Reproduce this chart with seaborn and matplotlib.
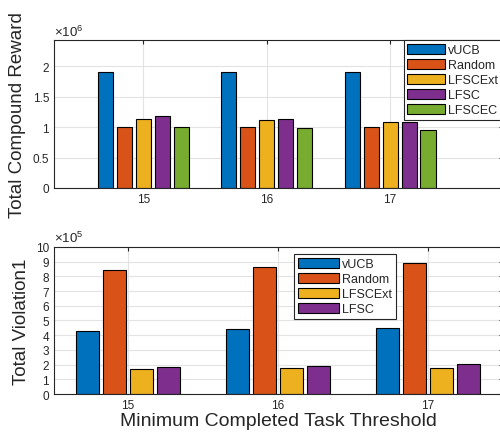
import matplotlib
matplotlib.use("Agg")
import matplotlib.pyplot as plt
import seaborn as sns
import pandas as pd

# Data
thresholds = ["15", "16", "17"]

reward_algos = ["vUCB", "Random", "LFSCExt", "LFSC", "LFSCEC"]
reward_vucb = [1.90e6, 1.90e6, 1.90e6]
reward_random = [1.00e6, 1.00e6, 1.00e6]
reward_lfscext = [1.14e6, 1.12e6, 1.08e6]
reward_lfsc = [1.175e6, 1.14e6, 1.09e6]
reward_lfscec = [0.995e6, 0.98e6, 0.96e6]
reward_ticks = [0, 0.5e6, 1e6, 1.5e6, 2e6]
reward_ticklabels = ["0", "0.5", "1", "1.5", "2"]

viol_algos = ["vUCB", "Random", "LFSCExt", "LFSC"]
viol_vucb = [4.31e5, 4.43e5, 4.52e5]
viol_random = [8.40e5, 8.64e5, 8.88e5]
viol_lfscext = [1.70e5, 1.75e5, 1.80e5]
viol_lfsc = [1.82e5, 1.91e5, 2.02e5]
viol_ticks = [i * 1e5 for i in range(11)]
viol_ticklabels = [str(i) for i in range(11)]

matlab_colors = ["#0072BD", "#D95319", "#EDB120", "#7E2F8E", "#77AC30"]


def to_long(algos, series):
    rows = []
    for algo, vals in zip(algos, series):
        for t, v in zip(thresholds, vals):
            rows.append({"Threshold": t, "Algorithm": algo, "Value": v})
    return pd.DataFrame(rows)


reward_df = to_long(reward_algos, [reward_vucb, reward_random, reward_lfscext,
                                   reward_lfsc, reward_lfscec])
viol_df = to_long(viol_algos, [viol_vucb, viol_random, viol_lfscext, viol_lfsc])

sns.set_style("white")
plt.rcParams["font.family"] = ["Liberation Sans", "DejaVu Sans"]
plt.rcParams["mathtext.fontset"] = "custom"
plt.rcParams["mathtext.rm"] = "Liberation Sans"

fig = plt.figure(figsize=(5.0, 4.39), dpi=100)
ax1 = fig.add_axes([0.108, 0.5695, 0.898, 0.337])
ax2 = fig.add_axes([0.108, 0.1002, 0.898, 0.335])


def style_axis(ax, ylim, yticks, yticklabels, exponent):
    ax.set_ylim(*ylim)
    ax.set_yticks(yticks)
    ax.set_yticklabels(yticklabels)
    ax.text(0.0, 1.01, r"$\times10^{%d}$" % exponent, transform=ax.transAxes,
            fontsize=9.5, color="#262626", ha="left", va="bottom")
    ax.grid(True, color="#e3e3e3", linewidth=0.8)
    ax.set_axisbelow(True)
    for s in ax.spines.values():
        s.set_visible(True)
        s.set_color("#262626")
        s.set_linewidth(0.8)
    ax.tick_params(direction="in", top=True, right=True, length=3,
                   labelsize=8.5, colors="#262626", width=0.8)


legend_kw = dict(fontsize=9, frameon=True, fancybox=False, edgecolor="#262626",
                 framealpha=1, handlelength=3.3, handleheight=0.9,
                 handletextpad=0.25, labelspacing=0.2, borderpad=0.3,
                 borderaxespad=0)

# Top: total compound reward
sns.barplot(data=reward_df, x="Threshold", y="Value", hue="Algorithm",
            order=thresholds, hue_order=reward_algos, palette=matlab_colors,
            width=0.77, gap=0.21, edgecolor="black", linewidth=0.8,
            saturation=1, ax=ax1)
ax1.set_xlim(-0.724, 2.916)
style_axis(ax1, (0, 2.43e6), reward_ticks, reward_ticklabels, 6)
ax1.set_xlabel("")
ax1.set_ylabel("Total Compound Reward", fontsize=13.5, color="#262626")
ax1.yaxis.set_label_coords(-0.062, 0.5)
top_kw = dict(legend_kw, handlelength=3.0)
leg1 = ax1.legend(loc="upper right", bbox_to_anchor=(0.997, 1.0), **top_kw)
leg1.get_frame().set_linewidth(0.8)

# Bottom: total violation
sns.barplot(data=viol_df, x="Threshold", y="Value", hue="Algorithm",
            order=thresholds, hue_order=viol_algos, palette=matlab_colors[:4],
            width=0.72, gap=0.15, edgecolor="black", linewidth=0.8,
            saturation=1, ax=ax2)
ax2.set_xlim(-0.49, 2.5)
style_axis(ax2, (0, 1e6), viol_ticks, viol_ticklabels, 5)
ax2.set_xlabel("Minimum Completed Task Threshold", fontsize=14,
               color="#262626", labelpad=1)
ax2.set_ylabel("Total Violation1", fontsize=13.5, color="#262626")
ax2.yaxis.set_label_coords(-0.053, 0.5)
leg2 = ax2.legend(loc="upper left", bbox_to_anchor=(0.534, 0.952), **legend_kw)
leg2.get_frame().set_linewidth(0.8)

fig.savefig("out.png", dpi=100)
